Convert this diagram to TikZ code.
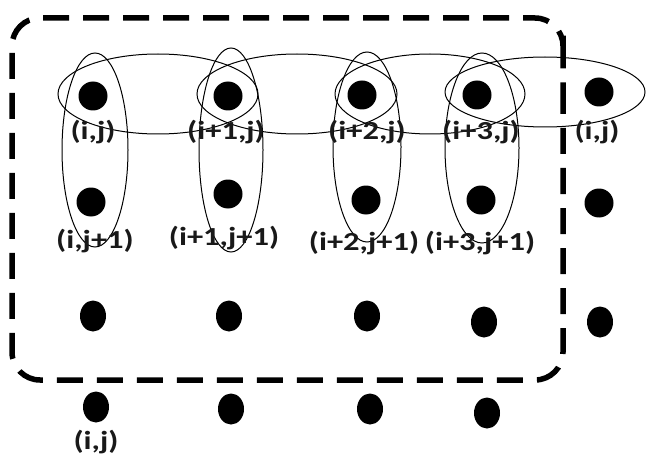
\documentclass[tikz,border=0pt]{standalone}
\usepackage{fontspec}
\setmainfont{Carlito}
\begin{document}
\begin{tikzpicture}[x=1pt,y=-1pt,
  dotA/.style={circle,fill=black,minimum size=29pt,inner sep=0pt},
  dotB/.style={ellipse,fill=black,minimum width=26pt,minimum height=31pt,inner sep=0pt},
  lbl/.style={inner sep=0pt,text=black!90,font=\fontsize{26}{26}\selectfont\bfseries},
  ring/.style={draw=black,line width=1pt},
  frame/.style={draw=black,line width=5.5pt,dash pattern=on 26pt off 14pt,rounded corners=28pt}]
\usetikzlibrary{shapes.geometric}
\useasboundingbox (0,0) rectangle (647,457);
% dashed frame
\draw[frame] (563,60) -- (563,380) -- (12,380) -- (12,18) -- (563,18) -- cycle;
% dots
\node[dotA] (d11) at (93,96) {};
\node[dotA] (d12) at (228,96) {};
\node[dotA] (d13) at (362,95) {};
\node[dotA] (d14) at (477,95) {};
\node[dotA] (d15) at (599,92) {};
\node[dotA] (d21) at (91,202) {};
\node[dotA] (d22) at (228,194) {};
\node[dotA] (d23) at (366,200) {};
\node[dotA] (d24) at (481,200) {};
\node[dotA] (d25) at (599,203) {};
\node[dotB] (d31) at (93,316) {};
\node[dotB] (d32) at (229,316) {};
\node[dotB] (d33) at (367,316) {};
\node[dotB] (d34) at (484,322) {};
\node[dotB] (d35) at (600,322) {};
\node[dotB] (d41) at (96,407) {};
\node[dotB] (d42) at (231,409) {};
\node[dotB] (d43) at (370,409) {};
\node[dotB] (d44) at (487,413) {};
% horizontal ellipses
\draw[ring] (158,94) ellipse [x radius=100, y radius=40];
\draw[ring] (297,94) ellipse [x radius=100, y radius=40];
\draw[ring] (430,94) ellipse [x radius=95, y radius=40];
\draw[ring] (545,92) ellipse [x radius=100, y radius=35];
% vertical ellipses
\draw[ring] (95,150) ellipse [x radius=33, y radius=97];
\draw[ring] (231,150) ellipse [x radius=32, y radius=102];
\draw[ring] (367,147) ellipse [x radius=34, y radius=95];
\draw[ring] (482,148) ellipse [x radius=37, y radius=95];
% labels
\node[lbl] (l11) at (93,132) {\scalebox{1.25}[1]{(i,j)}};
\node[lbl] (l12) at (226,132) {\scalebox{1.25}[1]{(i+1,j)}};
\node[lbl] (l13) at (367,132) {\scalebox{1.25}[1]{(i+2,j)}};
\node[lbl] (l14) at (481,132) {\scalebox{1.25}[1]{(i+3,j)}};
\node[lbl] (l15) at (597,132) {\scalebox{1.25}[1]{(i,j)}};
\node[lbl] (l21) at (95,241) {\scalebox{1.25}[1]{(i,j+1)}};
\node[lbl] (l22) at (224,238) {\scalebox{1.25}[1]{(i+1,j+1)}};
\node[lbl] (l23) at (364,243) {\scalebox{1.25}[1]{(i+2,j+1)}};
\node[lbl] (l24) at (480,243) {\scalebox{1.25}[1]{(i+3,j+1)}};
\node[lbl] (l41) at (96,442) {\scalebox{1.25}[1]{(i,j)}};
\end{tikzpicture}
\end{document}
